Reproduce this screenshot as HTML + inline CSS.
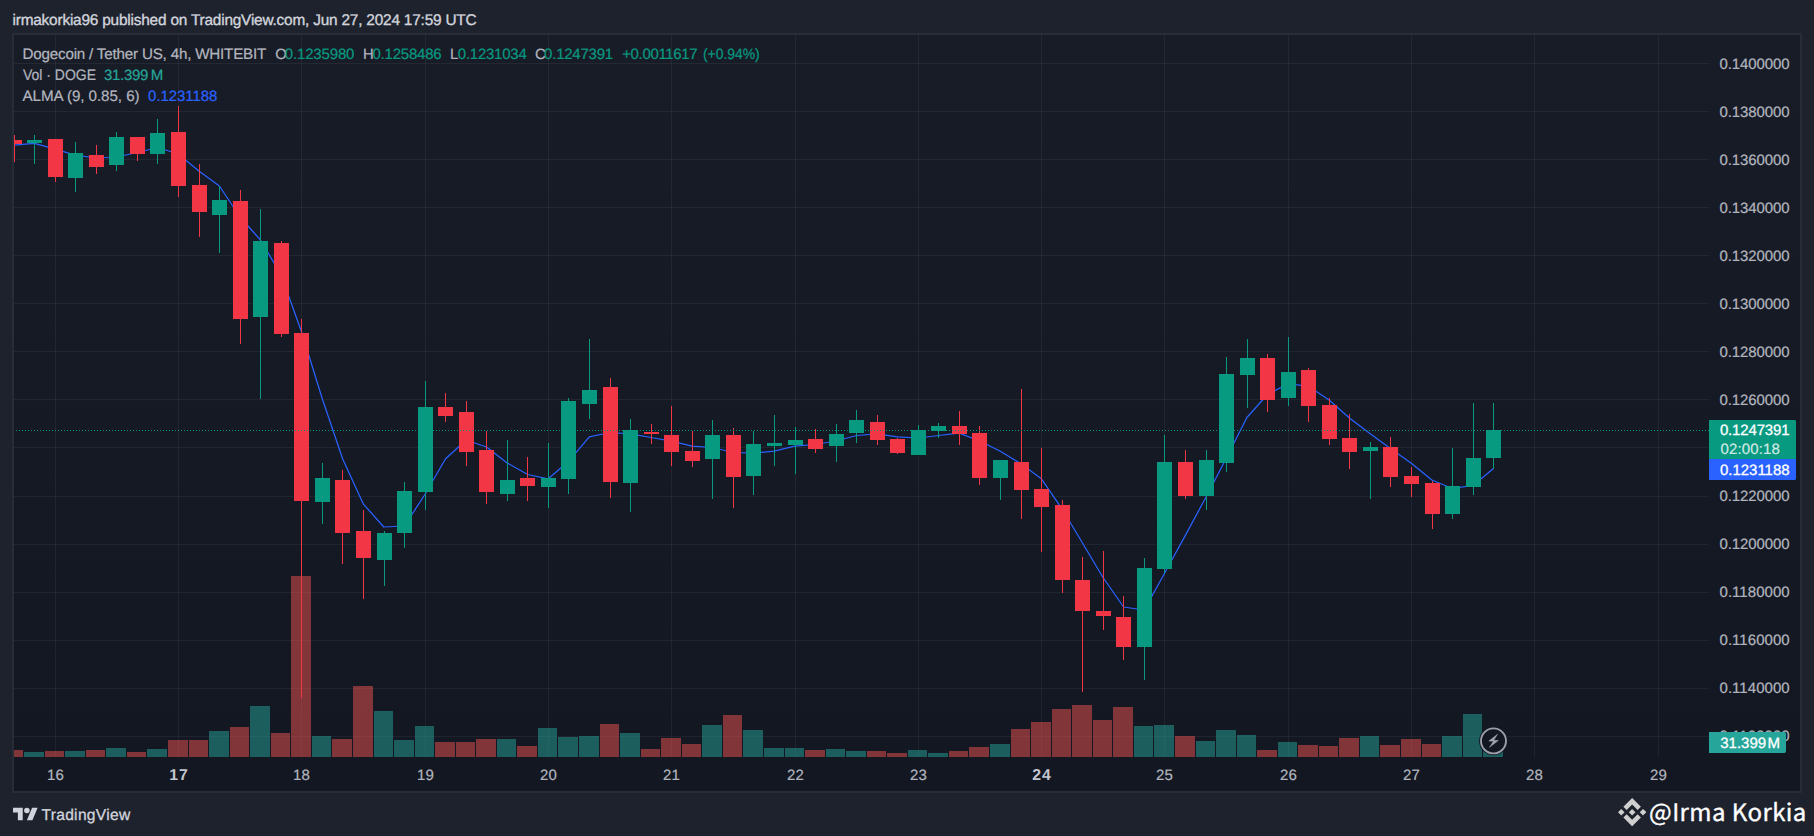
<!DOCTYPE html>
<html><head><meta charset="utf-8"><title>DOGEUSDT chart</title>
<style>
html,body{margin:0;padding:0}
body{width:1814px;height:836px;background:#1e222d;overflow:hidden;position:relative;font-family:"Liberation Sans",Arial,sans-serif}
.chart{position:absolute;left:0;top:0}
.t{position:absolute;white-space:pre;line-height:1;font-size:14.5px;color:#b2b5be;text-rendering:geometricPrecision}
.lb{position:absolute;z-index:2}

</style></head><body>
<svg class="chart" width="1814" height="836" viewBox="0 0 1814 836"><defs><linearGradient id="bg" x1="0" y1="0" x2="0" y2="1"><stop offset="0" stop-color="#181c27"/><stop offset="1" stop-color="#131722"/></linearGradient><clipPath id="pane"><rect x="14" y="35" width="1695" height="722"/></clipPath></defs><rect x="12" y="33" width="1790" height="760" fill="#282c37"/><rect x="14" y="35" width="1786" height="756" fill="url(#bg)"/><g shape-rendering="crispEdges" fill="rgba(240,243,250,0.06)"><rect x="14" y="63" width="1695" height="1"/><rect x="14" y="111" width="1695" height="1"/><rect x="14" y="159" width="1695" height="1"/><rect x="14" y="207" width="1695" height="1"/><rect x="14" y="255" width="1695" height="1"/><rect x="14" y="303" width="1695" height="1"/><rect x="14" y="351" width="1695" height="1"/><rect x="14" y="399" width="1695" height="1"/><rect x="14" y="447" width="1695" height="1"/><rect x="14" y="496" width="1695" height="1"/><rect x="14" y="544" width="1695" height="1"/><rect x="14" y="592" width="1695" height="1"/><rect x="14" y="640" width="1695" height="1"/><rect x="14" y="688" width="1695" height="1"/><rect x="14" y="736" width="1695" height="1"/><rect x="55" y="35" width="1" height="722"/><rect x="178" y="35" width="1" height="722"/><rect x="301" y="35" width="1" height="722"/><rect x="425" y="35" width="1" height="722"/><rect x="548" y="35" width="1" height="722"/><rect x="671" y="35" width="1" height="722"/><rect x="795" y="35" width="1" height="722"/><rect x="918" y="35" width="1" height="722"/><rect x="1041" y="35" width="1" height="722"/><rect x="1164" y="35" width="1" height="722"/><rect x="1288" y="35" width="1" height="722"/><rect x="1411" y="35" width="1" height="722"/><rect x="1534" y="35" width="1" height="722"/><rect x="1658" y="35" width="1" height="722"/></g><g shape-rendering="crispEdges" clip-path="url(#pane)"><rect x="4" y="750" width="19" height="7" fill="rgba(239,83,80,0.5)"/><rect x="24" y="752" width="20" height="5" fill="rgba(38,166,154,0.5)"/><rect x="45" y="751" width="19" height="6" fill="rgba(239,83,80,0.5)"/><rect x="65" y="751" width="20" height="6" fill="rgba(38,166,154,0.5)"/><rect x="86" y="750" width="19" height="7" fill="rgba(239,83,80,0.5)"/><rect x="106" y="748" width="20" height="9" fill="rgba(38,166,154,0.5)"/><rect x="127" y="752" width="19" height="5" fill="rgba(239,83,80,0.5)"/><rect x="147" y="749" width="20" height="8" fill="rgba(38,166,154,0.5)"/><rect x="168" y="740" width="20" height="17" fill="rgba(239,83,80,0.5)"/><rect x="189" y="740" width="19" height="17" fill="rgba(239,83,80,0.5)"/><rect x="209" y="731" width="20" height="26" fill="rgba(38,166,154,0.5)"/><rect x="230" y="727" width="19" height="30" fill="rgba(239,83,80,0.5)"/><rect x="250" y="706" width="20" height="51" fill="rgba(38,166,154,0.5)"/><rect x="271" y="733" width="19" height="24" fill="rgba(239,83,80,0.5)"/><rect x="291" y="576" width="20" height="181" fill="rgba(239,83,80,0.5)"/><rect x="312" y="736" width="19" height="21" fill="rgba(38,166,154,0.5)"/><rect x="332" y="739" width="20" height="18" fill="rgba(239,83,80,0.5)"/><rect x="353" y="686" width="20" height="71" fill="rgba(239,83,80,0.5)"/><rect x="374" y="711" width="19" height="46" fill="rgba(38,166,154,0.5)"/><rect x="394" y="740" width="20" height="17" fill="rgba(38,166,154,0.5)"/><rect x="415" y="726" width="19" height="31" fill="rgba(38,166,154,0.5)"/><rect x="435" y="742" width="20" height="15" fill="rgba(239,83,80,0.5)"/><rect x="456" y="742" width="19" height="15" fill="rgba(239,83,80,0.5)"/><rect x="476" y="739" width="20" height="18" fill="rgba(239,83,80,0.5)"/><rect x="497" y="739" width="19" height="18" fill="rgba(38,166,154,0.5)"/><rect x="517" y="746" width="20" height="11" fill="rgba(239,83,80,0.5)"/><rect x="538" y="728" width="19" height="29" fill="rgba(38,166,154,0.5)"/><rect x="558" y="737" width="20" height="20" fill="rgba(38,166,154,0.5)"/><rect x="579" y="736" width="20" height="21" fill="rgba(38,166,154,0.5)"/><rect x="600" y="724" width="19" height="33" fill="rgba(239,83,80,0.5)"/><rect x="620" y="733" width="20" height="24" fill="rgba(38,166,154,0.5)"/><rect x="641" y="749" width="19" height="8" fill="rgba(239,83,80,0.5)"/><rect x="661" y="738" width="20" height="19" fill="rgba(239,83,80,0.5)"/><rect x="682" y="744" width="19" height="13" fill="rgba(239,83,80,0.5)"/><rect x="702" y="725" width="20" height="32" fill="rgba(38,166,154,0.5)"/><rect x="723" y="715" width="19" height="42" fill="rgba(239,83,80,0.5)"/><rect x="743" y="730" width="20" height="27" fill="rgba(38,166,154,0.5)"/><rect x="764" y="748" width="20" height="9" fill="rgba(38,166,154,0.5)"/><rect x="785" y="748" width="19" height="9" fill="rgba(38,166,154,0.5)"/><rect x="805" y="750" width="20" height="7" fill="rgba(239,83,80,0.5)"/><rect x="826" y="749" width="19" height="8" fill="rgba(38,166,154,0.5)"/><rect x="846" y="751" width="20" height="6" fill="rgba(38,166,154,0.5)"/><rect x="867" y="751" width="19" height="6" fill="rgba(239,83,80,0.5)"/><rect x="887" y="753" width="20" height="4" fill="rgba(239,83,80,0.5)"/><rect x="908" y="750" width="19" height="7" fill="rgba(38,166,154,0.5)"/><rect x="928" y="753" width="20" height="4" fill="rgba(38,166,154,0.5)"/><rect x="949" y="751" width="19" height="6" fill="rgba(239,83,80,0.5)"/><rect x="969" y="747" width="20" height="10" fill="rgba(239,83,80,0.5)"/><rect x="990" y="744" width="20" height="13" fill="rgba(38,166,154,0.5)"/><rect x="1011" y="729" width="19" height="28" fill="rgba(239,83,80,0.5)"/><rect x="1031" y="722" width="20" height="35" fill="rgba(239,83,80,0.5)"/><rect x="1052" y="709" width="19" height="48" fill="rgba(239,83,80,0.5)"/><rect x="1072" y="705" width="20" height="52" fill="rgba(239,83,80,0.5)"/><rect x="1093" y="720" width="19" height="37" fill="rgba(239,83,80,0.5)"/><rect x="1113" y="707" width="20" height="50" fill="rgba(239,83,80,0.5)"/><rect x="1134" y="726" width="19" height="31" fill="rgba(38,166,154,0.5)"/><rect x="1154" y="725" width="20" height="32" fill="rgba(38,166,154,0.5)"/><rect x="1175" y="736" width="20" height="21" fill="rgba(239,83,80,0.5)"/><rect x="1196" y="741" width="19" height="16" fill="rgba(38,166,154,0.5)"/><rect x="1216" y="730" width="20" height="27" fill="rgba(38,166,154,0.5)"/><rect x="1237" y="735" width="19" height="22" fill="rgba(38,166,154,0.5)"/><rect x="1257" y="750" width="20" height="7" fill="rgba(239,83,80,0.5)"/><rect x="1278" y="742" width="19" height="15" fill="rgba(38,166,154,0.5)"/><rect x="1298" y="745" width="20" height="12" fill="rgba(239,83,80,0.5)"/><rect x="1319" y="746" width="19" height="11" fill="rgba(239,83,80,0.5)"/><rect x="1339" y="738" width="20" height="19" fill="rgba(239,83,80,0.5)"/><rect x="1360" y="736" width="19" height="21" fill="rgba(38,166,154,0.5)"/><rect x="1380" y="745" width="20" height="12" fill="rgba(239,83,80,0.5)"/><rect x="1401" y="739" width="20" height="18" fill="rgba(239,83,80,0.5)"/><rect x="1422" y="744" width="19" height="13" fill="rgba(239,83,80,0.5)"/><rect x="1442" y="736" width="20" height="21" fill="rgba(38,166,154,0.5)"/><rect x="1463" y="714" width="19" height="43" fill="rgba(38,166,154,0.5)"/><rect x="1483" y="743" width="20" height="14" fill="rgba(38,166,154,0.5)"/></g><polyline clip-path="url(#pane)" fill="none" stroke="#2962ff" stroke-width="1.25" stroke-linejoin="round" points="13.0,145.2 34.5,143.3 55.0,149.2 75.5,155.2 96.1,158.0 116.7,157.0 137.2,152.5 157.8,147.5 178.3,154.0 198.8,171.0 219.4,186.0 240.0,217.0 260.5,240.0 281.1,275.0 301.6,332.0 322.2,398.5 342.7,459.0 363.2,503.8 383.8,527.0 404.4,526.0 424.9,494.5 445.4,459.0 466.0,440.0 486.6,447.0 507.1,462.9 527.7,474.5 548.2,478.8 568.8,461.2 589.3,436.8 609.9,432.5 630.4,433.8 651.0,437.5 671.5,441.2 692.1,446.2 712.6,447.5 733.1,452.5 753.7,453.2 774.2,451.2 794.8,446.2 815.4,444.5 835.9,441.0 856.5,435.5 877.0,433.8 897.6,436.8 918.1,438.0 938.6,435.5 959.2,433.2 979.8,441.0 1000.3,451.2 1020.9,463.8 1041.4,478.8 1062.0,508.8 1082.5,543.0 1103.0,577.5 1123.6,607.0 1144.2,610.0 1164.7,573.0 1185.2,535.6 1205.8,497.5 1226.4,458.0 1246.9,417.5 1267.5,394.5 1288.0,383.8 1308.5,386.2 1329.1,400.0 1349.7,418.2 1370.2,433.8 1390.8,448.8 1411.3,463.2 1431.9,480.0 1452.4,488.5 1473.0,485.4 1493.5,468.5"/><g shape-rendering="crispEdges" clip-path="url(#pane)"><rect x="14" y="135" width="1" height="27" fill="#f23645"/><rect x="7" y="140" width="15" height="4" fill="#f23645"/><rect x="34" y="135" width="1" height="29" fill="#089981"/><rect x="27" y="140" width="15" height="3" fill="#089981"/><rect x="55" y="139" width="1" height="43" fill="#f23645"/><rect x="48" y="139" width="15" height="38" fill="#f23645"/><rect x="75" y="142" width="1" height="50" fill="#089981"/><rect x="68" y="153" width="15" height="25" fill="#089981"/><rect x="96" y="145" width="1" height="29" fill="#f23645"/><rect x="89" y="155" width="15" height="12" fill="#f23645"/><rect x="116" y="132" width="1" height="39" fill="#089981"/><rect x="109" y="137" width="15" height="28" fill="#089981"/><rect x="137" y="137" width="1" height="24" fill="#f23645"/><rect x="130" y="137" width="15" height="17" fill="#f23645"/><rect x="157" y="119" width="1" height="45" fill="#089981"/><rect x="150" y="133" width="15" height="21" fill="#089981"/><rect x="178" y="106" width="1" height="91" fill="#f23645"/><rect x="171" y="132" width="15" height="54" fill="#f23645"/><rect x="199" y="164" width="1" height="73" fill="#f23645"/><rect x="192" y="185" width="15" height="27" fill="#f23645"/><rect x="219" y="186" width="1" height="67" fill="#089981"/><rect x="212" y="200" width="15" height="15" fill="#089981"/><rect x="240" y="190" width="1" height="154" fill="#f23645"/><rect x="233" y="201" width="15" height="118" fill="#f23645"/><rect x="260" y="209" width="1" height="190" fill="#089981"/><rect x="253" y="241" width="15" height="76" fill="#089981"/><rect x="281" y="241" width="1" height="96" fill="#f23645"/><rect x="274" y="243" width="15" height="91" fill="#f23645"/><rect x="301" y="319" width="1" height="379" fill="#f23645"/><rect x="294" y="333" width="15" height="168" fill="#f23645"/><rect x="322" y="463" width="1" height="61" fill="#089981"/><rect x="315" y="478" width="15" height="24" fill="#089981"/><rect x="342" y="470" width="1" height="94" fill="#f23645"/><rect x="335" y="480" width="15" height="53" fill="#f23645"/><rect x="363" y="510" width="1" height="89" fill="#f23645"/><rect x="356" y="531" width="15" height="27" fill="#f23645"/><rect x="384" y="531" width="1" height="55" fill="#089981"/><rect x="377" y="533" width="15" height="27" fill="#089981"/><rect x="404" y="482" width="1" height="66" fill="#089981"/><rect x="397" y="491" width="15" height="42" fill="#089981"/><rect x="425" y="381" width="1" height="129" fill="#089981"/><rect x="418" y="407" width="15" height="85" fill="#089981"/><rect x="445" y="393" width="1" height="29" fill="#f23645"/><rect x="438" y="407" width="15" height="9" fill="#f23645"/><rect x="466" y="401" width="1" height="65" fill="#f23645"/><rect x="459" y="412" width="15" height="40" fill="#f23645"/><rect x="486" y="431" width="1" height="73" fill="#f23645"/><rect x="479" y="450" width="15" height="42" fill="#f23645"/><rect x="507" y="440" width="1" height="61" fill="#089981"/><rect x="500" y="480" width="15" height="14" fill="#089981"/><rect x="527" y="457" width="1" height="44" fill="#f23645"/><rect x="520" y="478" width="15" height="8" fill="#f23645"/><rect x="548" y="443" width="1" height="65" fill="#089981"/><rect x="541" y="478" width="15" height="9" fill="#089981"/><rect x="568" y="398" width="1" height="96" fill="#089981"/><rect x="561" y="401" width="15" height="78" fill="#089981"/><rect x="589" y="339" width="1" height="80" fill="#089981"/><rect x="582" y="390" width="15" height="14" fill="#089981"/><rect x="610" y="378" width="1" height="120" fill="#f23645"/><rect x="603" y="387" width="15" height="95" fill="#f23645"/><rect x="630" y="419" width="1" height="93" fill="#089981"/><rect x="623" y="430" width="15" height="53" fill="#089981"/><rect x="651" y="424" width="1" height="20" fill="#f23645"/><rect x="644" y="432" width="15" height="2" fill="#f23645"/><rect x="671" y="406" width="1" height="60" fill="#f23645"/><rect x="664" y="435" width="15" height="17" fill="#f23645"/><rect x="692" y="431" width="1" height="36" fill="#f23645"/><rect x="685" y="451" width="15" height="10" fill="#f23645"/><rect x="712" y="420" width="1" height="79" fill="#089981"/><rect x="705" y="435" width="15" height="24" fill="#089981"/><rect x="733" y="428" width="1" height="80" fill="#f23645"/><rect x="726" y="435" width="15" height="42" fill="#f23645"/><rect x="753" y="431" width="1" height="64" fill="#089981"/><rect x="746" y="444" width="15" height="32" fill="#089981"/><rect x="774" y="415" width="1" height="51" fill="#089981"/><rect x="767" y="443" width="15" height="3" fill="#089981"/><rect x="795" y="427" width="1" height="47" fill="#089981"/><rect x="788" y="440" width="15" height="5" fill="#089981"/><rect x="815" y="429" width="1" height="24" fill="#f23645"/><rect x="808" y="439" width="15" height="10" fill="#f23645"/><rect x="836" y="424" width="1" height="38" fill="#089981"/><rect x="829" y="434" width="15" height="12" fill="#089981"/><rect x="856" y="410" width="1" height="33" fill="#089981"/><rect x="849" y="420" width="15" height="13" fill="#089981"/><rect x="877" y="415" width="1" height="30" fill="#f23645"/><rect x="870" y="422" width="15" height="18" fill="#f23645"/><rect x="897" y="438" width="1" height="16" fill="#f23645"/><rect x="890" y="439" width="15" height="14" fill="#f23645"/><rect x="918" y="425" width="1" height="30" fill="#089981"/><rect x="911" y="430" width="15" height="25" fill="#089981"/><rect x="938" y="423" width="1" height="15" fill="#089981"/><rect x="931" y="426" width="15" height="5" fill="#089981"/><rect x="959" y="411" width="1" height="34" fill="#f23645"/><rect x="952" y="426" width="15" height="8" fill="#f23645"/><rect x="979" y="426" width="1" height="59" fill="#f23645"/><rect x="972" y="433" width="15" height="45" fill="#f23645"/><rect x="1000" y="460" width="1" height="40" fill="#089981"/><rect x="993" y="460" width="15" height="18" fill="#089981"/><rect x="1021" y="389" width="1" height="130" fill="#f23645"/><rect x="1014" y="462" width="15" height="28" fill="#f23645"/><rect x="1041" y="448" width="1" height="104" fill="#f23645"/><rect x="1034" y="489" width="15" height="18" fill="#f23645"/><rect x="1062" y="500" width="1" height="93" fill="#f23645"/><rect x="1055" y="505" width="15" height="75" fill="#f23645"/><rect x="1082" y="557" width="1" height="135" fill="#f23645"/><rect x="1075" y="580" width="15" height="31" fill="#f23645"/><rect x="1103" y="551" width="1" height="79" fill="#f23645"/><rect x="1096" y="611" width="15" height="5" fill="#f23645"/><rect x="1123" y="596" width="1" height="64" fill="#f23645"/><rect x="1116" y="617" width="15" height="30" fill="#f23645"/><rect x="1144" y="558" width="1" height="122" fill="#089981"/><rect x="1137" y="568" width="15" height="79" fill="#089981"/><rect x="1164" y="435" width="1" height="138" fill="#089981"/><rect x="1157" y="462" width="15" height="107" fill="#089981"/><rect x="1185" y="450" width="1" height="49" fill="#f23645"/><rect x="1178" y="462" width="15" height="34" fill="#f23645"/><rect x="1206" y="450" width="1" height="60" fill="#089981"/><rect x="1199" y="460" width="15" height="36" fill="#089981"/><rect x="1226" y="357" width="1" height="115" fill="#089981"/><rect x="1219" y="374" width="15" height="89" fill="#089981"/><rect x="1247" y="339" width="1" height="69" fill="#089981"/><rect x="1240" y="358" width="15" height="17" fill="#089981"/><rect x="1267" y="354" width="1" height="58" fill="#f23645"/><rect x="1260" y="358" width="15" height="42" fill="#f23645"/><rect x="1288" y="337" width="1" height="69" fill="#089981"/><rect x="1281" y="372" width="15" height="26" fill="#089981"/><rect x="1308" y="368" width="1" height="54" fill="#f23645"/><rect x="1301" y="370" width="15" height="36" fill="#f23645"/><rect x="1329" y="398" width="1" height="47" fill="#f23645"/><rect x="1322" y="405" width="15" height="34" fill="#f23645"/><rect x="1349" y="414" width="1" height="55" fill="#f23645"/><rect x="1342" y="438" width="15" height="14" fill="#f23645"/><rect x="1370" y="442" width="1" height="57" fill="#089981"/><rect x="1363" y="447" width="15" height="4" fill="#089981"/><rect x="1390" y="437" width="1" height="50" fill="#f23645"/><rect x="1383" y="447" width="15" height="30" fill="#f23645"/><rect x="1411" y="467" width="1" height="30" fill="#f23645"/><rect x="1404" y="476" width="15" height="8" fill="#f23645"/><rect x="1432" y="481" width="1" height="48" fill="#f23645"/><rect x="1425" y="483" width="15" height="31" fill="#f23645"/><rect x="1452" y="448" width="1" height="71" fill="#089981"/><rect x="1445" y="486" width="15" height="28" fill="#089981"/><rect x="1473" y="403" width="1" height="92" fill="#089981"/><rect x="1466" y="458" width="15" height="29" fill="#089981"/><rect x="1493" y="403" width="1" height="66" fill="#089981"/><rect x="1486" y="430" width="15" height="28" fill="#089981"/></g><line x1="16" y1="430.5" x2="1709" y2="430.5" stroke="#089981" stroke-width="1" stroke-dasharray="1 2" shape-rendering="crispEdges"/><g transform="translate(1493.5 740.9)"><circle r="14.4" fill="#131722"/><circle r="12.5" fill="#131722" stroke="#9c9fa9" stroke-width="1.9"/><path d="M4.1-6.7L-4.7 0.1L0 0.4L-4 6.4L4.8-0.4L0.2-0.7Z" fill="#a3a6af" stroke="#a3a6af" stroke-width="0.5" stroke-linejoin="round"/></g><path d="M1709 420H1794a2 2 0 0 1 2 2V459H1709Z" fill="#089981"/><path d="M1709 459H1796V478a2 2 0 0 1-2 2H1709Z" fill="#2962ff"/><path d="M1709 732H1783a2 2 0 0 1 2 2V751a2 2 0 0 1-2 2H1709Z" fill="#26a69a"/></svg>
<div class="lb" style="left:1709px;top:420px;width:87px;height:39px;background:#089981;border-radius:0 2px 0 0"></div>
<div class="lb" style="left:1709px;top:459px;width:87px;height:21px;background:#2962ff;border-radius:0 0 2px 0"></div>
<div class="lb" style="left:1709px;top:732px;width:77px;height:21px;background:#26a69a;border-radius:0 2px 2px 0"></div>
<svg class="logo" style="position:absolute;left:12.7px;top:804.9px" width="25" height="19.4" viewBox="0 0 36 28"><path d="M14 22H7V11H0V4h14v18zM28 22h-8l7.5-18h8L28 22z" fill="#d1d4dc"/><circle cx="20" cy="8" r="4" fill="#d1d4dc"/></svg>
<svg style="position:absolute;left:1617.7px;top:798px" width="28.3" height="28.3" viewBox="0 0 32 32"><g fill="#cfcfcf"><path d="M16 0l9.9 9.9-3.7 3.7L16 7.4 9.8 13.6 6.1 9.9z"/><path d="M16 32l-9.9-9.9 3.7-3.7L16 24.6l6.2-6.2 3.7 3.7z"/><path d="M0 16l3.7-3.7L7.4 16l-3.7 3.7z"/><path d="M24.6 16l3.7-3.7L32 16l-3.7 3.7z"/><path d="M16 12.3l3.7 3.7-3.7 3.7-3.7-3.7z"/></g></svg>
<span class="t" style="left:12.5px;top:13.0px;font-size:15.4px;color:#d1d4dc;letter-spacing:-0.202px;-webkit-text-stroke:0.35px #d1d4dc;">irmakorkia96 published on TradingView.com, Jun 27, 2024 17:59 UTC</span>
<span class="t" style="left:22.5px;top:47.0px;font-size:15.2px;color:#b2b5be;letter-spacing:-0.199px;-webkit-text-stroke:0.22px #b2b5be;">Dogecoin / Tether US, 4h, WHITEBIT</span>
<span class="t" style="left:275.2px;top:48.0px;font-size:14.8px;color:#b2b5be;-webkit-text-stroke:0.22px #b2b5be;">O</span>
<span class="t" style="left:284.8px;top:47.0px;font-size:15px;color:#089981;letter-spacing:-0.157px;-webkit-text-stroke:0.22px #089981;">0.1235980</span>
<span class="t" style="left:362.9px;top:48.0px;font-size:14.8px;color:#b2b5be;-webkit-text-stroke:0.22px #b2b5be;">H</span>
<span class="t" style="left:372.5px;top:47.0px;font-size:15px;color:#089981;letter-spacing:-0.220px;-webkit-text-stroke:0.22px #089981;">0.1258486</span>
<span class="t" style="left:449.9px;top:48.0px;font-size:14.8px;color:#b2b5be;-webkit-text-stroke:0.22px #b2b5be;">L</span>
<span class="t" style="left:457.8px;top:47.0px;font-size:15px;color:#089981;letter-spacing:-0.245px;-webkit-text-stroke:0.22px #089981;">0.1231034</span>
<span class="t" style="left:535.1px;top:48.0px;font-size:14.8px;color:#b2b5be;-webkit-text-stroke:0.22px #b2b5be;">C</span>
<span class="t" style="left:544.1px;top:47.0px;font-size:15px;color:#089981;letter-spacing:-0.232px;-webkit-text-stroke:0.22px #089981;">0.1247391</span>
<span class="t" style="left:622.2px;top:47.0px;font-size:15px;color:#089981;letter-spacing:-0.346px;-webkit-text-stroke:0.22px #089981;">+0.0011617</span>
<span class="t" style="left:703.2px;top:47.0px;font-size:15px;color:#089981;transform:scaleX(0.9258);transform-origin:0 0;-webkit-text-stroke:0.22px #089981;">(+0.94%)</span>
<span class="t" style="left:22.5px;top:68.0px;font-size:15.2px;color:#b2b5be;transform:scaleX(0.9196);transform-origin:0 0;-webkit-text-stroke:0.22px #b2b5be;">Vol · DOGE</span>
<span class="t" style="left:104.0px;top:68.0px;font-size:15px;color:#26a69a;letter-spacing:-0.320px;-webkit-text-stroke:0.22px #26a69a;">31.399 M</span>
<span class="t" style="left:22.5px;top:89.0px;font-size:15.2px;color:#b2b5be;letter-spacing:-0.070px;-webkit-text-stroke:0.22px #b2b5be;">ALMA (9, 0.85, 6)</span>
<span class="t" style="left:148.1px;top:89.0px;font-size:15px;color:#2962ff;letter-spacing:-0.056px;-webkit-text-stroke:0.22px #2962ff;">0.1231188</span>
<span class="t" style="left:1719.5px;top:57.0px;font-size:15px;color:#b2b5be;letter-spacing:-0.095px;-webkit-text-stroke:0.22px #b2b5be;">0.1400000</span>
<span class="t" style="left:1719.5px;top:105.0px;font-size:15px;color:#b2b5be;letter-spacing:-0.095px;-webkit-text-stroke:0.22px #b2b5be;">0.1380000</span>
<span class="t" style="left:1719.5px;top:152.9px;font-size:15px;color:#b2b5be;letter-spacing:-0.095px;-webkit-text-stroke:0.22px #b2b5be;">0.1360000</span>
<span class="t" style="left:1719.5px;top:200.9px;font-size:15px;color:#b2b5be;letter-spacing:-0.095px;-webkit-text-stroke:0.22px #b2b5be;">0.1340000</span>
<span class="t" style="left:1719.5px;top:248.9px;font-size:15px;color:#b2b5be;letter-spacing:-0.095px;-webkit-text-stroke:0.22px #b2b5be;">0.1320000</span>
<span class="t" style="left:1719.5px;top:296.9px;font-size:15px;color:#b2b5be;letter-spacing:-0.095px;-webkit-text-stroke:0.22px #b2b5be;">0.1300000</span>
<span class="t" style="left:1719.5px;top:344.9px;font-size:15px;color:#b2b5be;letter-spacing:-0.095px;-webkit-text-stroke:0.22px #b2b5be;">0.1280000</span>
<span class="t" style="left:1719.5px;top:392.9px;font-size:15px;color:#b2b5be;letter-spacing:-0.095px;-webkit-text-stroke:0.22px #b2b5be;">0.1260000</span>
<span class="t" style="left:1719.5px;top:440.9px;font-size:15px;color:#b2b5be;letter-spacing:-0.095px;-webkit-text-stroke:0.22px #b2b5be;">0.1240000</span>
<span class="t" style="left:1719.5px;top:488.9px;font-size:15px;color:#b2b5be;letter-spacing:-0.095px;-webkit-text-stroke:0.22px #b2b5be;">0.1220000</span>
<span class="t" style="left:1719.5px;top:537.0px;font-size:15px;color:#b2b5be;letter-spacing:-0.095px;-webkit-text-stroke:0.22px #b2b5be;">0.1200000</span>
<span class="t" style="left:1719.5px;top:585.0px;font-size:15px;color:#b2b5be;letter-spacing:0.044px;-webkit-text-stroke:0.22px #b2b5be;">0.1180000</span>
<span class="t" style="left:1719.5px;top:633.0px;font-size:15px;color:#b2b5be;letter-spacing:0.044px;-webkit-text-stroke:0.22px #b2b5be;">0.1160000</span>
<span class="t" style="left:1719.5px;top:681.0px;font-size:15px;color:#b2b5be;letter-spacing:0.044px;-webkit-text-stroke:0.22px #b2b5be;">0.1140000</span>
<span class="t" style="left:1719.5px;top:729.0px;font-size:15px;color:#b2b5be;letter-spacing:0.044px;-webkit-text-stroke:0.22px #b2b5be;">0.1120000</span>
<span class="t" style="left:47.1px;top:768.0px;font-size:15px;color:#b2b5be;letter-spacing:0.062px;-webkit-text-stroke:0.22px #b2b5be;">16</span>
<span class="t" style="left:169.2px;top:768.0px;font-size:15.8px;color:#c4c7d0;font-weight:700;letter-spacing:1.044px;">17</span>
<span class="t" style="left:293.1px;top:768.0px;font-size:15px;color:#b2b5be;letter-spacing:0.062px;-webkit-text-stroke:0.22px #b2b5be;">18</span>
<span class="t" style="left:417.1px;top:768.0px;font-size:15px;color:#b2b5be;letter-spacing:0.062px;-webkit-text-stroke:0.22px #b2b5be;">19</span>
<span class="t" style="left:540.1px;top:768.0px;font-size:15px;color:#b2b5be;letter-spacing:0.062px;-webkit-text-stroke:0.22px #b2b5be;">20</span>
<span class="t" style="left:663.1px;top:768.0px;font-size:15px;color:#b2b5be;letter-spacing:0.062px;-webkit-text-stroke:0.22px #b2b5be;">21</span>
<span class="t" style="left:787.1px;top:768.0px;font-size:15px;color:#b2b5be;letter-spacing:0.062px;-webkit-text-stroke:0.22px #b2b5be;">22</span>
<span class="t" style="left:910.1px;top:768.0px;font-size:15px;color:#b2b5be;letter-spacing:0.062px;-webkit-text-stroke:0.22px #b2b5be;">23</span>
<span class="t" style="left:1032.2px;top:768.0px;font-size:15.8px;color:#c4c7d0;font-weight:700;letter-spacing:1.044px;">24</span>
<span class="t" style="left:1156.1px;top:768.0px;font-size:15px;color:#b2b5be;letter-spacing:0.062px;-webkit-text-stroke:0.22px #b2b5be;">25</span>
<span class="t" style="left:1280.1px;top:768.0px;font-size:15px;color:#b2b5be;letter-spacing:0.062px;-webkit-text-stroke:0.22px #b2b5be;">26</span>
<span class="t" style="left:1403.1px;top:768.0px;font-size:15px;color:#b2b5be;letter-spacing:0.062px;-webkit-text-stroke:0.22px #b2b5be;">27</span>
<span class="t" style="left:1526.1px;top:768.0px;font-size:15px;color:#b2b5be;letter-spacing:0.062px;-webkit-text-stroke:0.22px #b2b5be;">28</span>
<span class="t" style="left:1650.1px;top:768.0px;font-size:15px;color:#b2b5be;letter-spacing:0.062px;-webkit-text-stroke:0.22px #b2b5be;">29</span>
<span class="t" style="left:1719.9px;top:422.9px;font-size:15px;color:#ffffff;letter-spacing:-0.157px;z-index:3;-webkit-text-stroke:0.3px #fff;">0.1247391</span>
<span class="t" style="left:1720.4px;top:441.9px;font-size:15px;color:rgba(255,255,255,0.78);letter-spacing:0.151px;z-index:3;-webkit-text-stroke:0.22px rgba(255,255,255,0.78);">02:00:18</span>
<span class="t" style="left:1719.9px;top:462.9px;font-size:15px;color:#ffffff;letter-spacing:-0.006px;z-index:3;-webkit-text-stroke:0.3px #fff;">0.1231188</span>
<span class="t" style="left:1720.2px;top:736.0px;font-size:15px;color:#ffffff;letter-spacing:0.027px;z-index:3;-webkit-text-stroke:0.3px #fff;">31.399<span style="margin-left:1.3px">M</span></span>
<span class="t" style="left:41.4px;top:808.0px;font-size:15.6px;color:#d1d4dc;letter-spacing:0.309px;-webkit-text-stroke:0.3px #d1d4dc;">TradingView</span>
<span class="t" style="left:1649.0px;top:799.0px;font-size:24px;color:#ffffff;font-family:'Noto Sans CJK SC','Liberation Sans',sans-serif;letter-spacing:0.423px;-webkit-text-stroke:0.35px #fff;">@Irma Korkia</span>
</body></html>
